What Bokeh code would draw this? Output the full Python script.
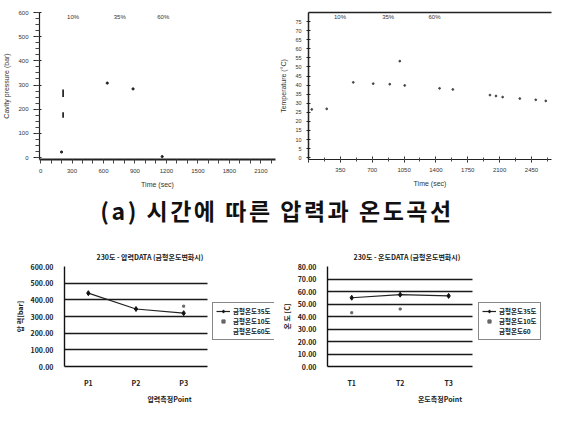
from bokeh.plotting import figure
from bokeh.models import (ColumnDataSource, Range1d, LinearAxis, FixedTicker, SingleIntervalTicker,
                          NumeralTickFormatter, Legend, LegendItem, Div, LabelSet)
from bokeh.layouts import column, row
from bokeh.embed import file_html
from bokeh.resources import INLINE
from bokeh.core.properties import value

nan = float("nan")

# ---------------- data ----------------
# (top-left) cavity pressure vs time
pres_time = [200, 636, 882, 1160]
pres_vals = [23, 308, 284, 4]
pres_seg_time = [215, 215]
pres_seg_lo = [250, 165]
pres_seg_hi = [282, 187]
pct_labels = ["10%", "35%", "60%"]
pres_pct_x = [310, 755, 1170]

# (top-right) temperature vs time
temp_time = [36, 200, 492, 711, 893, 1057, 1003, 1440, 1586, 1994, 2060, 2133, 2322, 2497, 2607]
temp_vals = [26.6, 26.9, 41.5, 40.8, 40.5, 39.8, 53.2, 38.2, 37.6, 34.5, 34.0, 33.4, 32.6, 31.9, 31.3]
temp_pct_x = [346, 875, 1385]
temp_y_ticks = list(range(0, 80, 5))

# (bottom) Excel charts
p_points = ["P1", "P2", "P3"]
t_points = ["T1", "T2", "T3"]
series_names = ["금형온도35도", "금형온도10도", "금형온도60도"]
series_names_t = ["금형온도35도", "금형온도10도", "금형온도60"]
pres_35 = [440, 345, 320]
pres_10 = [nan, nan, 362]
pres_60 = [nan, nan, nan]
temp_35 = [55, 57.5, 56.5]
temp_10 = [43, 46, nan]
temp_60 = [nan, nan, nan]

FONT = "Liberation Sans"
KFONT = "Noto Sans CJK KR"
TOP_H = 190
CAP_H = 40
BOT_H = 176


def style_top(p):
    for ax in p.axis:
        ax.major_label_text_font = FONT
        ax.major_label_text_font_size = "6px"
        ax.major_label_text_color = "#333"
        ax.axis_label_text_font = FONT
        ax.axis_label_text_font_size = "7px"
        ax.axis_label_text_font_style = "normal"
        ax.axis_label_text_color = "#333"
        ax.axis_line_color = "#222"
        ax.major_tick_line_color = "#222"
        ax.minor_tick_line_color = "#444"
    p.grid.visible = False
    p.outline_line_color = None


# ---------------- top-left ----------------
p1 = figure(width=277, height=TOP_H, output_backend="svg", toolbar_location=None,
            x_range=Range1d(-10, 2240), y_range=Range1d(-8, 600),
            min_border_left=38, min_border_right=2, min_border_top=12, min_border_bottom=24)
p1.xaxis.ticker = SingleIntervalTicker(interval=300, num_minor_ticks=3)
p1.yaxis.ticker = SingleIntervalTicker(interval=100, num_minor_ticks=4)
p1.xaxis.axis_label = "Time (sec)"
p1.yaxis.axis_label = "Cavity pressure (bar)"
p1.scatter(pres_time, pres_vals, size=2.2, color="#222")
p1.segment(x0=pres_seg_time, y0=pres_seg_lo, x1=pres_seg_time, y1=pres_seg_hi,
           line_color="#111", line_width=1.6)
src1 = ColumnDataSource(dict(x=pres_pct_x, y=[582] * 3, t=pct_labels))
p1.add_layout(LabelSet(x="x", y="y", text="t", source=src1, text_font=value(FONT),
                       text_font_size="6px", text_color="#333", text_align="center",
                       text_baseline="middle"))
style_top(p1)
p1.xaxis.axis_line_width = 2
p1.xaxis.major_tick_in = 0
p1.xaxis.major_tick_out = 3
p1.yaxis.axis_line_width = 1.2

# ---------------- top-right ----------------
p2 = figure(width=277, height=TOP_H, output_backend="svg", toolbar_location=None,
            x_range=Range1d(0, 2670), y_range=Range1d(-1, 80),
            min_border_left=29, min_border_right=3, min_border_top=9, min_border_bottom=22)
p2.xaxis.ticker = SingleIntervalTicker(interval=350, num_minor_ticks=2)
p2.xaxis.major_label_overrides = {0: ""}
p2.yaxis.ticker = FixedTicker(ticks=temp_y_ticks)
p2.xaxis.axis_label = "Time (sec)"
p2.yaxis.axis_label = "Temperature (°C)"
p2.scatter(temp_time, temp_vals, size=1.8, color="#444")
src2 = ColumnDataSource(dict(x=temp_pct_x, y=[77.5] * 3, t=pct_labels))
p2.add_layout(LabelSet(x="x", y="y", text="t", source=src2, text_font=value(FONT),
                       text_font_size="6px", text_color="#333", text_align="center",
                       text_baseline="middle"))
top_ax = LinearAxis(ticker=FixedTicker(ticks=[]), major_label_text_font_size="0px",
                    axis_line_color="#111", axis_line_width=1.5)
p2.add_layout(top_ax, "above")
style_top(p2)
p2.xaxis.major_tick_in = 3
p2.xaxis.major_tick_out = 3
p2.xaxis.minor_tick_in = 2
p2.xaxis.minor_tick_out = 2
p2.yaxis.major_tick_in = 2
p2.yaxis.major_tick_out = 2
p2.xaxis.axis_line_width = 1.2
p2.yaxis.axis_line_width = 1.5
top_ax.axis_line_width = 1.5
p2.yaxis.major_label_text_font_size = "5.5px"

# ---------------- caption ----------------
cap = Div(text="(a) 시간에 따른 압력과 온도곡선", width=554, height=CAP_H, margin=(0, 0, 0, 0),
          styles={"text-align": "center", "font-family": KFONT, "font-weight": "bold",
                  "font-size": "23px", "line-height": "%dpx" % CAP_H, "color": "#111",
                  "letter-spacing": "2.5px", "width": "554px"})


# ---------------- bottom charts ----------------
def excel_chart(cats, s35, s10, s60, names, title, ylabel, xlabel, ymax, step,
                left, data_w, title_off):
    W, H, TOP, BOT, RIGHT = 276, BOT_H, 36, 30, 2
    n = len(cats)
    frame_w = W - left - RIGHT
    xs = [i + 0.5 for i in range(n)]
    p = figure(width=W, height=H, output_backend="svg", toolbar_location=None,
               x_range=Range1d(0, n * frame_w / data_w), y_range=Range1d(0, ymax),
               min_border_left=left, min_border_right=RIGHT, min_border_top=TOP,
               min_border_bottom=BOT, title=title)
    p.title.align = "left"
    p.title.offset = title_off
    p.title.text_font = KFONT
    p.title.text_font_size = "7px"
    p.title.text_font_style = "bold"
    p.title.text_color = "#222"
    p.title.standoff = 10
    p.xaxis.ticker = FixedTicker(ticks=xs)
    p.xaxis.major_label_overrides = {x: c for x, c in zip(xs, cats)}
    p.xaxis.bounds = (0, n)
    p.xaxis.minor_tick_line_color = None
    p.yaxis.ticker = SingleIntervalTicker(interval=step)
    p.yaxis.formatter = NumeralTickFormatter(format="0.00")
    p.yaxis.minor_tick_line_color = None
    p.xaxis.major_tick_line_color = None
    p.yaxis.major_tick_line_color = None
    p.xgrid.visible = False
    p.outline_line_color = None
    try:
        p.ygrid.cross_bounds = (0, n)
        p.ygrid.ticker = SingleIntervalTicker(interval=step)
        p.ygrid.grid_line_color = "#1a1a1a"
        p.ygrid.grid_line_width = 1.6
    except Exception:
        p.ygrid.visible = False
        gy = list(range(step, ymax + 1, step))
        p.segment(x0=[0] * len(gy), y0=gy, x1=[n] * len(gy), y1=gy,
                  line_color="#1a1a1a", line_width=1.6)
    for ax in p.axis:
        ax.axis_line_color = "#111"
        ax.axis_line_width = 1.4
        ax.major_label_text_font = KFONT
        ax.major_label_text_font_size = "7px"
        ax.major_label_text_font_style = "bold"
        ax.major_label_text_color = "#222"
        ax.axis_label_text_font = KFONT
        ax.axis_label_text_font_size = "7px"
        ax.axis_label_text_font_style = "bold"
        ax.axis_label_text_color = "#222"
        ax.axis_label_standoff = 3
    p.yaxis.axis_label = ylabel
    p.xaxis.axis_label = xlabel
    p.xaxis.axis_label_text_align = "right"
    r35 = p.line(xs, s35, line_color="#222", line_width=1.2)
    m35 = p.scatter(xs, s35, marker="diamond", size=5, color="#111")
    m10 = p.scatter(xs, s10, marker="square", size=2, color="#666")
    r60 = p.line(xs, s60, line_alpha=0)
    leg = Legend(items=[LegendItem(label=names[0], renderers=[r35, m35]),
                        LegendItem(label=names[1], renderers=[m10]),
                        LegendItem(label=names[2], renderers=[r60])],
                 location=(data_w + 5, 26),
                 label_text_font=KFONT, label_text_font_size="6.5px",
                 label_text_font_style="bold", label_text_color="#222",
                 glyph_width=14, glyph_height=8, label_height=8, spacing=0, padding=3,
                 margin=0, border_line_color="#111", border_line_width=1.2,
                 label_standoff=3, background_fill_color="white", background_fill_alpha=1)
    p.add_layout(leg)
    return p


p3 = excel_chart(p_points, pres_35, pres_10, pres_60, series_names,
                 "230도 - 압력DATA (금형온도변화시)", "압 력[bar]", "압력측정Point", 600, 100,
                 64, 143, 32)
p4 = excel_chart(t_points, temp_35, temp_10, temp_60, series_names_t,
                 "230도 - 온도DATA (금형온도변화시)", "온 도 [C]", "온도측정Point", 80, 10,
                 48, 146, 26)

layout = column(row(p1, p2, spacing=0), cap, row(p3, p4, spacing=2), spacing=0)
open("out.html", "w").write(file_html(layout, INLINE))
